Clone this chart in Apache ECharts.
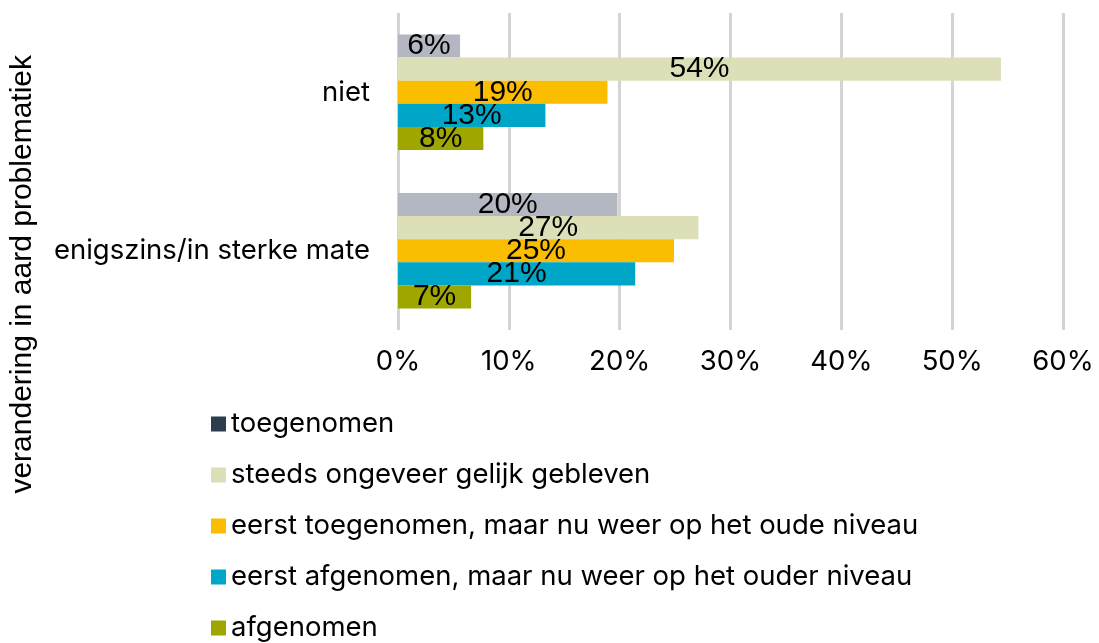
<!DOCTYPE html>
<html>
<head>
<meta charset="utf-8">
<script src="https://cdn.jsdelivr.net/npm/echarts@6/dist/echarts.min.js"></script>
<style>
  html, body { margin: 0; padding: 0; background: #fff; }
  #chart { width: 1099px; height: 643px; }
</style>
</head>
<body>
<div id="chart"></div>
<script>
var categories = ['niet', 'enigszins/in sterke mate'];
var seriesNames = [
  'toegenomen',
  'steeds ongeveer gelijk gebleven',
  'eerst toegenomen, maar nu weer op het oude niveau',
  'eerst afgenomen, maar nu weer op het ouder niveau',
  'afgenomen'
];
var toegenomen = [5.6, 19.8];
var gelijk = [54.4, 27.1];
var eerstToe = [18.9, 24.9];
var eerstAf = [13.3, 21.4];
var afgenomen = [7.7, 6.6];
var xTicks = [0, 10, 20, 30, 40, 50, 60];

var barColors = ['#b3b7c1', '#dcdfb8', '#fbbd00', '#00a6c8', '#a0a600'];
var legendColors = ['#2e3d4d', '#dcdfb8', '#fbbd00', '#00a6c8', '#a0a600'];
var values = [toegenomen, gelijk, eerstToe, eerstAf, afgenomen];

var myChart = echarts.init(document.getElementById('chart'));

var series = seriesNames.map(function (name, i) {
  return {
    name: name,
    type: 'bar',
    barGap: '0%',
    barCategoryGap: '27%',
    itemStyle: { color: barColors[i] },
    label: {
      show: true,
      position: 'inside',
      color: '#000',
      fontFamily: 'Liberation Sans',
      fontSize: 30,
      formatter: function (p) { return Math.round(p.value) + '%'; }
    },
    data: values[i]
  };
});

var option = {
  animation: false,
  grid: { left: 398, right: 36, top: 13, bottom: 313 },
  legend: {
    orient: 'vertical',
    left: 211,
    top: 410,
    height: 300,
    padding: 0,
    itemWidth: 15,
    itemHeight: 15,
    itemGap: 23,
    icon: 'rect',
    textStyle: { fontFamily: 'Inter', fontSize: 27.5, lineHeight: 26, color: '#000', padding: [0, 0, 0, 0] },
    data: seriesNames.map(function (n, i) {
      return { name: n, itemStyle: { color: legendColors[i] } };
    })
  },
  xAxis: {
    type: 'value',
    min: 0,
    max: xTicks[xTicks.length - 1],
    interval: 10,
    axisLine: { show: false },
    axisTick: { show: false },
    splitLine: { lineStyle: { color: '#d4d4d4', width: 3 } },
    axisLabel: {
      margin: 18,
      fontFamily: 'Inter',
      fontSize: 27.5,
      color: '#000',
      formatter: '{value}%'
    }
  },
  yAxis: {
    type: 'category',
    inverse: true,
    data: categories,
    axisLine: { show: false },
    axisTick: { show: false },
    axisLabel: {
      margin: 28,
      fontFamily: 'Inter',
      fontSize: 27.5,
      color: '#000'
    }
  },
  graphic: [{
    type: 'text',
    left: 8,
    top: 55,
    rotation: Math.PI / 2,
    style: {
      text: 'verandering in aard problematiek',
      fontFamily: 'Liberation Sans',
      fontSize: 30,
      fill: '#000'
    }
  }],
  series: series
};

myChart.setOption(option);
</script>
</body>
</html>
